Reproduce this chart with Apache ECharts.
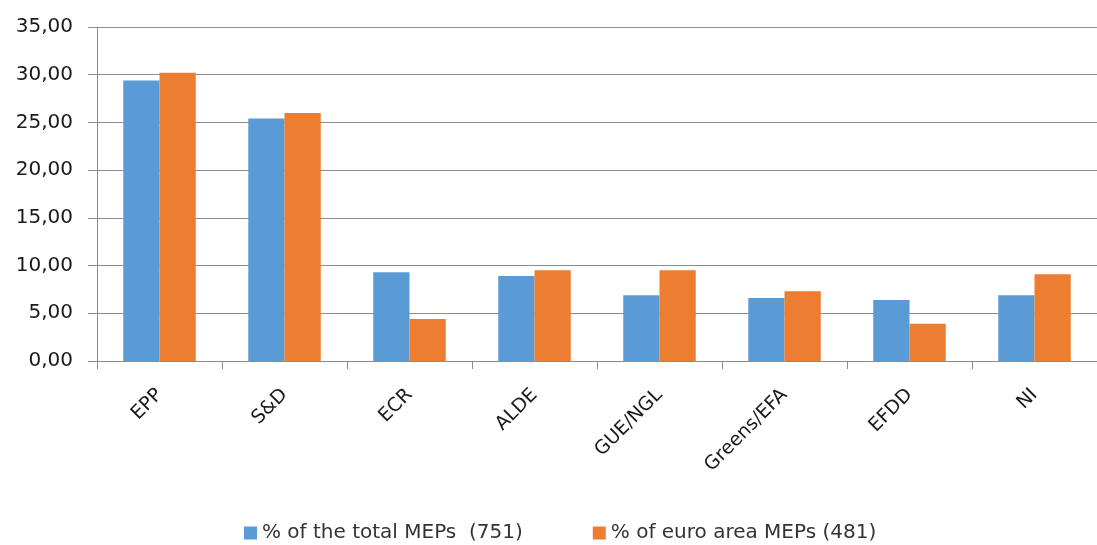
<!DOCTYPE html>
<html>
<head>
<meta charset="utf-8">
<script src="https://cdn.jsdelivr.net/npm/echarts@6/dist/echarts.min.js"></script>
<style>
	html, body { margin: 0; padding: 0; background: #fff; }
	#chart { width: 1097px; height: 545px; }
</style>
</head>
<body>
<div id="chart"></div>
<script>
	// groups of the European Parliament
	var groups = ['EPP', 'S&D', 'ECR', 'ALDE', 'GUE/NGL', 'Greens/EFA', 'EFDD', 'NI'];
	var totalMeps = [29.4, 25.4, 9.3, 8.9, 6.9, 6.6, 6.4, 6.9];
	var euroAreaMeps = [30.2, 26.0, 4.4, 9.5, 9.5, 7.3, 3.9, 9.1];
	var seriesNames = ['% of the total MEPs  (751)', '% of euro area MEPs (481)'];

	var font = 'DejaVu Sans';
	var chart = echarts.init(document.getElementById('chart'));
	chart.setOption({
		animation: false,
		color: ['#5B9BD5', '#ED7D31'],
		grid: { left: 97, right: -11, top: 27, bottom: 184 },
		legend: {
			left: 239,
			top: 518,
			itemWidth: 13,
			itemHeight: 13,
			itemGap: 70,
			icon: 'rect',
			textStyle: { fontFamily: font, fontSize: 20, color: '#333' },
			data: seriesNames
		},
		xAxis: {
			type: 'category',
			data: groups,
			axisLine: { lineStyle: { color: '#8c8c8c', width: 1 } },
			axisTick: { show: true, length: 8, lineStyle: { color: '#8c8c8c' } },
			axisLabel: {
				rotate: 45,
				margin: 31,
				interval: 0,
				fontFamily: font,
				fontSize: 19,
				color: '#1a1a1a'
			}
		},
		yAxis: {
			type: 'value',
			min: 0,
			max: 35,
			interval: 5,
			axisLine: { show: true, lineStyle: { color: '#8c8c8c' } },
			axisTick: { show: true, length: 9, lineStyle: { color: '#8c8c8c' } },
			splitLine: { lineStyle: { color: '#8c8c8c' } },
			axisLabel: {
				margin: 24,
				fontFamily: font,
				fontSize: 20,
				color: '#1a1a1a',
				formatter: function(v) { return v.toFixed(2).replace('.', ','); }
			}
		},
		series: [{
			name: seriesNames[0],
			type: 'bar',
			data: totalMeps,
			barGap: '0%',
			barCategoryGap: '42%'
		}, {
			name: seriesNames[1],
			type: 'bar',
			data: euroAreaMeps,
			barGap: '0%',
			barCategoryGap: '42%'
		}]
	});
</script>
</body>
</html>
